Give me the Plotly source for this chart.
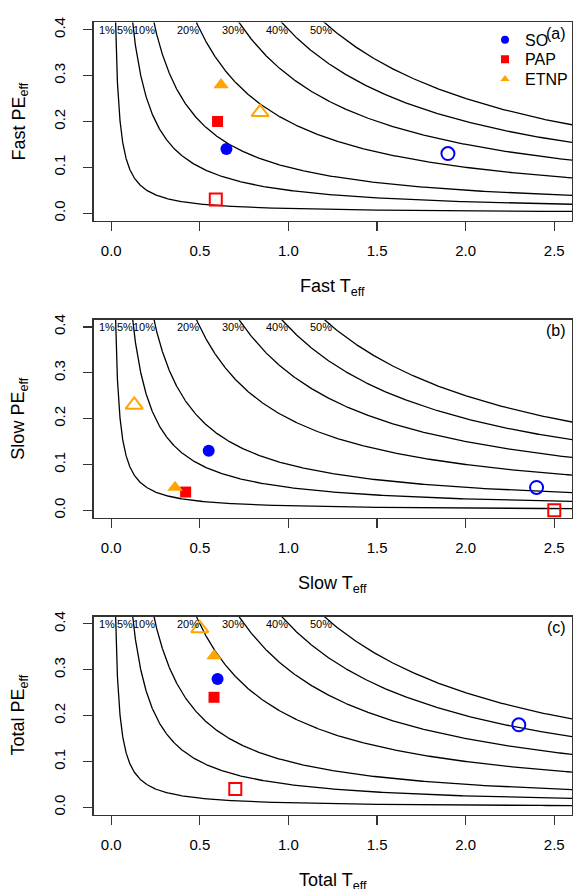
import numpy as np
import plotly.graph_objects as go

# ---- data ----
sites = ["SO", "PAP", "ETNP"]
site_colors = ["#0000FF", "#FF0000", "#FFA500"]
filled_symbols = ["circle", "square", "triangle-up"]
open_symbols = ["circle-open", "square-open", "triangle-up-open"]

panel_names = ["Fast", "Slow", "Total"]
panel_tags = ["(a)", "(b)", "(c)"]

fast_T_filled = [0.65, 0.60, 0.62]
fast_PE_filled = [0.14, 0.20, 0.28]
fast_T_open = [1.90, 0.59, 0.84]
fast_PE_open = [0.13, 0.03, 0.22]

slow_T_filled = [0.55, 0.42, 0.36]
slow_PE_filled = [0.13, 0.04, 0.05]
slow_T_open = [2.40, 2.50, 0.13]
slow_PE_open = [0.05, 0.00, 0.23]

total_T_filled = [0.60, 0.58, 0.58]
total_PE_filled = [0.28, 0.24, 0.33]
total_T_open = [2.30, 0.70, 0.50]
total_PE_open = [0.18, 0.04, 0.39]

levels = [0.01, 0.05, 0.10, 0.20, 0.30, 0.40, 0.50]
level_labels = ["1%", "5%", "10%", "20%", "30%", "40%", "50%"]

x_ticks = [0.0, 0.5, 1.0, 1.5, 2.0, 2.5]
y_ticks = [0.0, 0.1, 0.2, 0.3, 0.4]

panels = [
    (fast_T_filled, fast_PE_filled, fast_T_open, fast_PE_open),
    (slow_T_filled, slow_PE_filled, slow_T_open, slow_PE_open),
    (total_T_filled, total_PE_filled, total_T_open, total_PE_open),
]

# ---- layout geometry (window pixels; body margin removed via post_script) ----
W, H = 573, 889


def px_x(px):
    return px / W


def px_y(py):
    return 1 - py / H


panel_top_px = [17.5, 316.7, 615.7]
panel_h_px = 199.5
x_dom = [px_x(93.5), px_x(572.0)]
label_y = 0.4

FONT = "Liberation Sans, Arial, Helvetica, sans-serif"
filled_sizes = [12, 11, 13.5]
open_sizes = [13, 12, 15]

fig = go.Figure()
annotations = []
layout_axes = {}

for i, (Tf, Pf, To, Po) in enumerate(panels):
    xa = "x" if i == 0 else f"x{i+1}"
    ya = "y" if i == 0 else f"y{i+1}"
    # iso-lines PE * T = level
    for c in levels:
        xs = np.geomspace(c / 0.45, 2.7, 500)
        fig.add_trace(go.Scatter(x=xs, y=c / xs, mode="lines",
                                 line=dict(color="black", width=1.3),
                                 xaxis=xa, yaxis=ya, showlegend=False,
                                 hoverinfo="skip"))
    for k in range(len(sites)):
        fig.add_trace(go.Scatter(x=[Tf[k]], y=[Pf[k]], mode="markers",
                                 marker=dict(symbol=filled_symbols[k], color=site_colors[k],
                                             size=filled_sizes[k], line=dict(width=0)),
                                 xaxis=xa, yaxis=ya, showlegend=False, cliponaxis=False))
        fig.add_trace(go.Scatter(x=[To[k]], y=[Po[k]], mode="markers",
                                 marker=dict(symbol=open_symbols[k], color=site_colors[k],
                                             size=open_sizes[k], line=dict(width=2, color=site_colors[k])),
                                 xaxis=xa, yaxis=ya, showlegend=False, cliponaxis=False))
    top = px_y(panel_top_px[i])
    bot = px_y(panel_top_px[i] + panel_h_px)
    xkey = "xaxis" if i == 0 else f"xaxis{i+1}"
    ykey = "yaxis" if i == 0 else f"yaxis{i+1}"
    common = dict(showline=True, mirror=True, linecolor="#333333", linewidth=1.2,
                  ticks="outside", ticklen=9, tickcolor="#333333", tickwidth=1.2,
                  showgrid=False, zeroline=False,
                  tickfont=dict(family=FONT, size=15, color="black"))
    layout_axes[xkey] = dict(domain=x_dom, range=[-0.1, 2.6], anchor=ya,
                             tickvals=x_ticks, ticktext=[f"{v:.1f}" for v in x_ticks],
                             ticklabelstandoff=7, **common)
    layout_axes[ykey] = dict(domain=[bot, top], range=[-0.016, 0.416], anchor=xa,
                             tickvals=y_ticks, ticktext=[f"{v:.1f}" for v in y_ticks],
                             tickangle=-90, ticklabelstandoff=12, **common)
    # level labels
    for c, lab in zip(levels, level_labels):
        annotations.append(dict(x=c / label_y + 0.008, y=label_y, xref=xa, yref=ya,
                                text=lab, showarrow=False, xanchor="right", yanchor="middle",
                                font=dict(family=FONT, size=11, color="black")))
    # panel tag
    annotations.append(dict(x=px_x(568), y=px_y(panel_top_px[i] + 11), xref="paper", yref="paper",
                            text=panel_tags[i], showarrow=False, xanchor="right", yanchor="middle",
                            font=dict(family=FONT, size=16, color="black")))
    # axis titles
    annotations.append(dict(x=(x_dom[0] + x_dom[1]) / 2,
                            y=px_y(panel_top_px[i] + panel_h_px + 67),
                            xref="paper", yref="paper",
                            text=f"{panel_names[i]} T<sub>eff</sub>", showarrow=False,
                            xanchor="center", yanchor="middle",
                            font=dict(family=FONT, size=18, color="black")))
    annotations.append(dict(x=px_x(20), y=px_y(panel_top_px[i] + panel_h_px / 2),
                            xref="paper", yref="paper", textangle=-90,
                            text=f"{panel_names[i]} PE<sub>eff</sub>", showarrow=False,
                            xanchor="center", yanchor="middle",
                            font=dict(family=FONT, size=18, color="black")))

# legend entries (legend-only traces), one legend per row for exact spacing
legend_names = ["legend", "legend2", "legend3"]
legend_rows_px = [35.0, 54.6, 74.6]
legend_layout = {}
for k in range(len(sites)):
    fig.add_trace(go.Scatter(x=[None], y=[None], mode="markers", name=sites[k],
                             marker=dict(symbol=filled_symbols[k], color=site_colors[k], size=8),
                             xaxis="x", yaxis="y", showlegend=True, legend=legend_names[k]))
    legend_layout[legend_names[k]] = dict(
        x=px_x(485), y=px_y(legend_rows_px[k]), xanchor="left", yanchor="middle",
        bgcolor="rgba(0,0,0,0)", borderwidth=0,
        font=dict(family=FONT, size=16, color="black"), itemsizing="trace")

fig.update_layout(
    width=W, height=H,
    margin=dict(l=0, r=0, t=0, b=0),
    plot_bgcolor="white", paper_bgcolor="white",
    annotations=annotations,
    showlegend=True,
    hovermode=False,
    **legend_layout,
    **layout_axes,
)

fig.write_html("out.html",
               config={"displayModeBar": False, "staticPlot": True},
               post_script="document.body.style.margin='0px';document.body.style.overflow='hidden';")
